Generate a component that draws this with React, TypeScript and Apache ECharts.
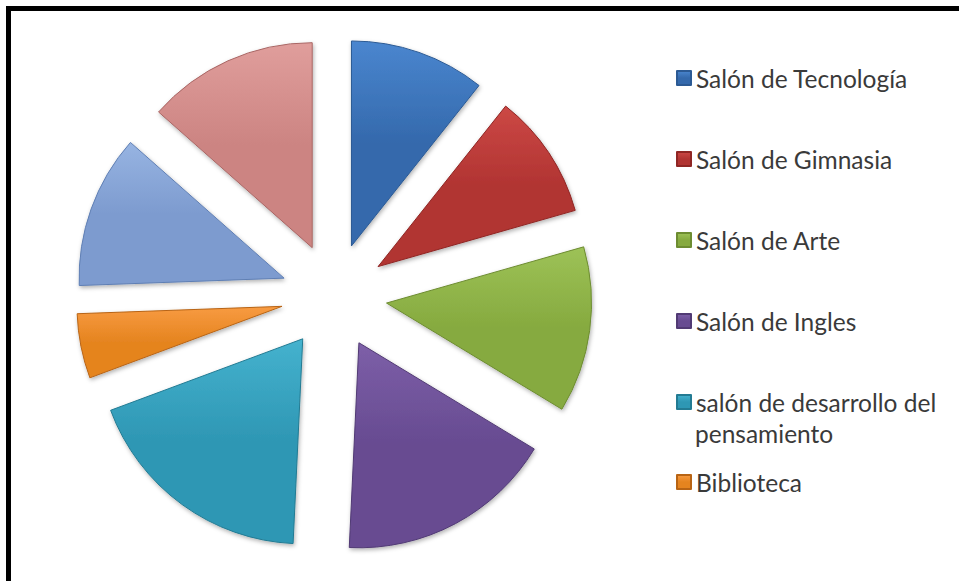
import React, { useEffect, useRef } from "react";
import * as echarts from "echarts";

const categories = [
  "Salón de Tecnología",
  "Salón de Gimnasia",
  "Salón de Arte",
  "Salón de Ingles",
  "salón de desarrollo del pensamiento",
  "Biblioteca",
  "Categoría 7",
  "Categoría 8",
];
const values = [10.7, 9.9, 13.1, 17.1, 18.6, 5.1, 12.1, 13.5];
const sliceColors = [
  ["#4a86cf", "#3469ac", "#2c5a94"],
  ["#cc4845", "#b13432", "#8f2624"],
  ["#9dc257", "#86aa3f", "#6d8c31"],
  ["#7d5fa8", "#674b91", "#513a74"],
  ["#45b2ce", "#2e97b4", "#237b93"],
  ["#f89b42", "#e5841f", "#b86414"],
  ["#97b4e2", "#7d9bcf", "#5f7fb4"],
  ["#e09e9c", "#cc8482", "#a96664"],
];
const legendMain = categories.slice(0, 4);
const legendWrapped = categories.slice(4, 5);
const legendLast = categories.slice(5, 6);
const wrappedFirstLine = "salón de desarrollo del";
const wrappedSecondLine = "pensamiento";

function grad(c: string[]) {
  return new echarts.graphic.LinearGradient(0, 0, 0, 1, [
    { offset: 0, color: c[0] },
    { offset: 0.5, color: c[1] },
    { offset: 1, color: c[1] },
  ]);
}

export default function App() {
  const ref = useRef<HTMLDivElement>(null);
  useEffect(() => {
    if (!ref.current) return;
    const chart = echarts.init(ref.current, undefined, { renderer: "svg" });
    const data = categories.map((name, i) => ({
      name,
      value: values[i],
      selected: true,
      itemStyle: {
        color: grad(sliceColors[i]),
        borderColor: sliceColors[i][2],
        borderWidth: 1,
      },
    }));
    const font = "Lato";
    const fontSize = 24.5;
    const textColor = "#3a3a3a";
    const legendText = { fontFamily: font, fontSize, color: textColor, lineHeight: 31 };
    const legendBase = {
      orient: "vertical",
      left: 676,
      padding: 0,
      itemWidth: 14,
      itemHeight: 14,
      itemGap: 50,
      icon: "rect",
      selectedMode: false,
      textStyle: legendText,
    };
    chart.setOption({
      animation: false,
      backgroundColor: "#ffffff",
      legend: [
        { ...legendBase, top: 62.5, data: legendMain },
        {
          ...legendBase,
          top: 386.5,
          data: legendWrapped,
          formatter: () => wrappedFirstLine,
        },
        { ...legendBase, top: 466.5, data: legendLast },
      ],
      graphic: [
        { type: "rect", shape: { x: 6, y: 6, width: 953, height: 5 }, style: { fill: "#000" } },
        { type: "rect", shape: { x: 6, y: 6, width: 5, height: 575 }, style: { fill: "#000" } },
        {
          type: "text",
          x: 695,
          y: 433,
          style: {
            text: wrappedSecondLine,
            fontFamily: font,
            fontSize,
            fill: textColor,
            verticalAlign: "middle",
          },
        },
      ],
      series: [
        {
          type: "pie",
          center: [334, 296],
          radius: 205,
          startAngle: 90,
          clockwise: true,
          selectedMode: "multiple",
          selectedOffset: 53,
          silent: true,
          label: { show: false },
          labelLine: { show: false },
          itemStyle: {
            shadowBlur: 4,
            shadowOffsetX: 1,
            shadowOffsetY: 2,
            shadowColor: "rgba(0,0,0,0.3)",
          },
          emphasis: { disabled: true },
          data,
        },
      ],
    });
    return () => chart.dispose();
  }, []);
  return (
    <div
      ref={ref}
      style={{ position: "absolute", left: 0, top: 0, width: 959, height: 581 }}
    />
  );
}
